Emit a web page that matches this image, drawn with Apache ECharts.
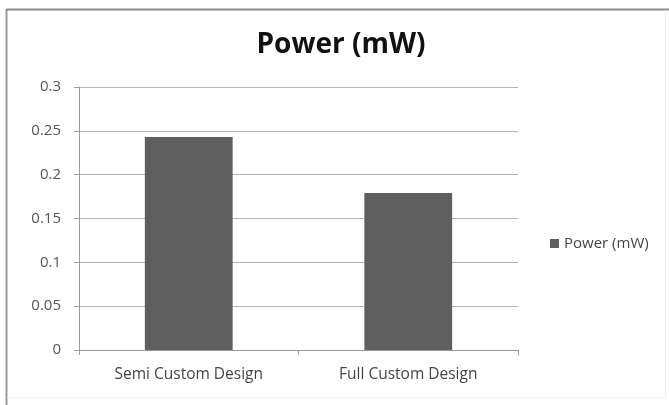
<!DOCTYPE html>
<html>
<head>
<meta charset="utf-8">
<script src="https://cdn.jsdelivr.net/npm/echarts@6/dist/echarts.min.js"></script>
<style>
  html, body { margin: 0; padding: 0; background: #fff; }
  #chart { width: 669px; height: 405px; }
</style>
</head>
<body>
<div id="chart"></div>
<script>
// Chart data
const categories = ['Semi Custom Design', 'Full Custom Design'];
const powerValues = [0.243, 0.179];
const seriesName = 'Power (mW)';
const titleText = 'Power (mW)';
const yMin = 0, yMax = 0.3, yStep = 0.05;

const chart = echarts.init(document.getElementById('chart'), null, { renderer: 'canvas' });
const font = '"Open Sans", Lato, "DejaVu Sans", sans-serif';

chart.setOption({
  animation: false,
  backgroundColor: '#ffffff',
  title: {
    text: titleText,
    left: 336,
    textAlign: 'center',
    top: 26,
    textStyle: { fontFamily: font, fontSize: 28, fontWeight: 'bold', color: '#111' }
  },
  legend: {
    data: [seriesName],
    left: 545,
    top: 231,
    itemWidth: 9,
    itemHeight: 9,
    itemGap: 4,
    icon: 'rect',
    textStyle: { fontFamily: font, fontSize: 15, color: '#444', padding: [0, 0, 0, 0] }
  },
  grid: { left: 79, right: 151, top: 87, bottom: 55, containLabel: false },
  xAxis: {
    type: 'category',
    data: categories,
    axisLine: { lineStyle: { color: '#9a9a9a', width: 1 } },
    axisTick: { show: true, length: 5, lineStyle: { color: '#9a9a9a' } },
    axisLabel: { fontFamily: font, fontSize: 15.5, color: '#444', margin: 17 }
  },
  yAxis: {
    type: 'value',
    min: yMin,
    max: yMax,
    interval: yStep,
    axisLine: { show: true, lineStyle: { color: '#9a9a9a', width: 1 } },
    axisTick: { show: true, length: 5, lineStyle: { color: '#9a9a9a' } },
    axisLabel: {
      fontFamily: font, fontSize: 15, color: '#555', margin: 18,
      formatter: v => String(parseFloat(v.toFixed(2)))
    },
    splitLine: { lineStyle: { color: '#b4b4b4', width: 1.2 } }
  },
  series: [{
    name: seriesName,
    type: 'bar',
    data: powerValues,
    barWidth: '40%',
    itemStyle: { color: '#5f5f5f' }
  }],
  graphic: [
    { type: 'line', shape: { x1: 6.5, y1: 9, x2: 6.5, y2: 405 }, style: { stroke: '#9a9a9a', lineWidth: 2 } },
    { type: 'line', shape: { x1: 6, y1: 9.5, x2: 669, y2: 9.5 }, style: { stroke: '#8a8a8a', lineWidth: 2 } },
    { type: 'line', shape: { x1: 665.5, y1: 10, x2: 665.5, y2: 398 }, style: { stroke: '#ececec', lineWidth: 1 } },
    { type: 'line', shape: { x1: 7, y1: 397.5, x2: 666, y2: 397.5 }, style: { stroke: '#f0f0f0', lineWidth: 1 } }
  ]
});
</script>
</body>
</html>
